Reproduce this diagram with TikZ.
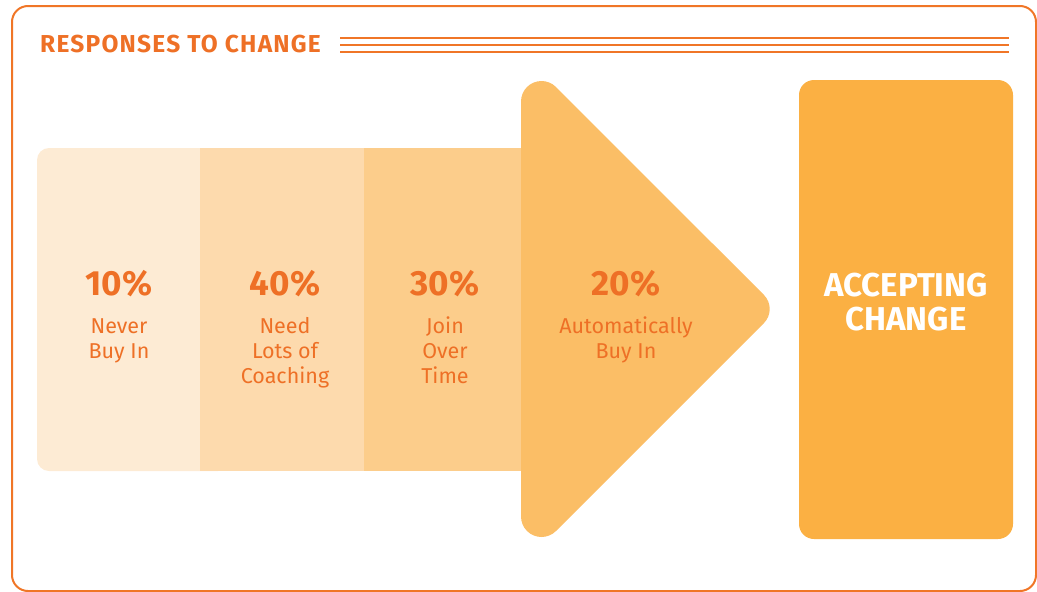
\documentclass[tikz,border=0pt]{standalone}
\usepackage{fontspec}
\setmainfont{Fira Sans}
\definecolor{frameor}{HTML}{F07627}
\definecolor{textor}{HTML}{EE7026}
\definecolor{shadeA}{HTML}{FDEBD4}
\definecolor{shadeB}{HTML}{FDDAAD}
\definecolor{shadeC}{HTML}{FCCD8B}
\definecolor{shadeD}{HTML}{FBBE66}
\definecolor{shadeE}{HTML}{FBB043}
\tikzset{
  pct/.style={text=textor, font=\fontsize{35}{40}\selectfont\bfseries, inner sep=0pt, anchor=base},
  lbl/.style={text=textor, font=\fontsize{21.5}{25}\selectfont, align=center, inner sep=0pt, anchor=base},
  rule/.style={draw=frameor, line width=1.6pt},
}
\begin{document}
\begin{tikzpicture}[x=1pt,y=-1pt]
\useasboundingbox (0,0) rectangle (1037,592);
% outer frame
\draw[frameor, line width=2pt, rounded corners=16pt] (12,6) rectangle (1036,591);
% heading and its triple rule
\node[text=textor, font=\fontsize{24.5}{26}\selectfont\bfseries\addfontfeatures{LetterSpace=5}, inner sep=0pt, anchor=base west] (title) at (40,52.5) {RESPONSES TO CHANGE};
\coordinate (r1a) at (340,37.7); \coordinate (r1b) at (1009,37.7);
\coordinate (r2a) at (340,45);   \coordinate (r2b) at (1009,45);
\coordinate (r3a) at (340,51.7); \coordinate (r3b) at (1009,51.7);
\draw[rule] (r1a) -- (r1b);
\draw[rule] (r2a) -- (r2b);
\draw[rule] (r3a) -- (r3b);
% three bands of the arrow body
\fill[shadeA, rounded corners=12pt] (37,148) rectangle (230,471);
\fill[shadeB] (200,148) rectangle (364.5,471);
\fill[shadeC] (364,148) rectangle (522,471);
% arrow head
\fill[shadeD] (521,101.5) arc[start angle=180, end angle=315, radius=20.5]
  -- (763.86,294.86) arc[start angle=-45, end angle=45, radius=20]
  -- (556,531) arc[start angle=45, end angle=180, radius=20.5] -- cycle;
% result box
\fill[shadeE, rounded corners=15pt] (799,80) rectangle (1013,539);
% texts (multi-line labels are placed by the baseline of their last line)
\node[pct] (p1) at (119,295) {10\%};
\node[lbl] (l1) at (119,358) {Never\\Buy In};
\node[pct] (p2) at (285,295) {40\%};
\node[lbl] (l2) at (285,383) {Need\\Lots of\\Coaching};
\node[pct] (p3) at (445,295) {30\%};
\node[lbl] (l3) at (445,383) {Join\\Over\\Time};
\node[pct] (p4) at (626,295) {20\%};
\node[lbl] (l4) at (626,358) {Automatically\\Buy In};
\node[text=white, font=\fontsize{33}{34}\selectfont\bfseries, align=center, inner sep=0pt, anchor=base] (acc) at (906,330) {ACCEPTING\\CHANGE};
\end{tikzpicture}
\end{document}
